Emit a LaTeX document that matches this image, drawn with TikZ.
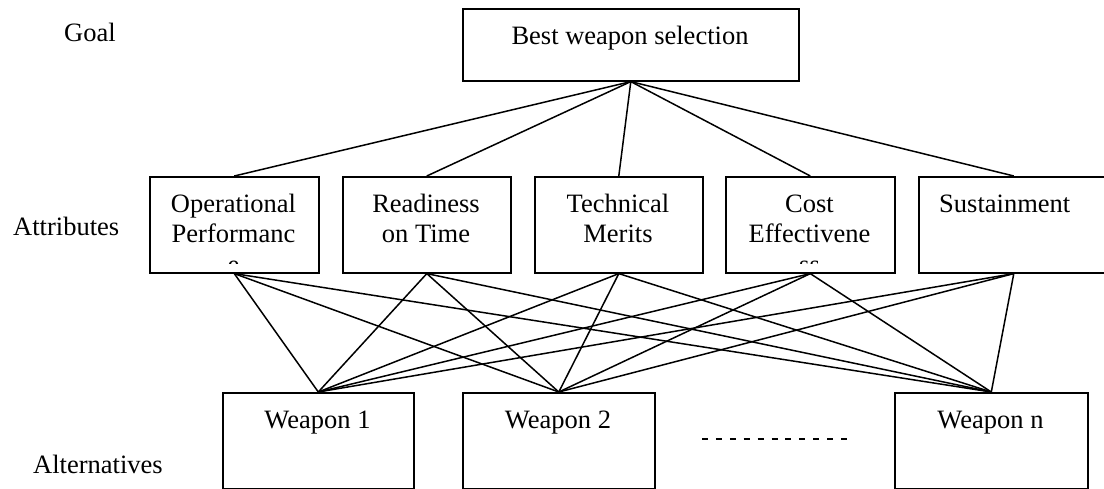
\documentclass[tikz,border=0pt]{standalone}
\usepackage{fontspec}
\setmainfont{Liberation Serif}
\begin{document}
\begin{tikzpicture}[x=1pt,y=-1pt,
  box/.style={draw=black,line width=1.6pt,inner sep=0pt,anchor=north west},
  txt/.style={anchor=base,inner sep=0pt,font=\fontsize{26.5}{30}\selectfont},
  txtl/.style={anchor=base west,inner sep=0pt,font=\fontsize{26.5}{30}\selectfont},
  link/.style={draw=black,line width=1.5pt}]
\clip (0,0) rectangle (1104,488);
\useasboundingbox (0,0) rectangle (1104,488);
\fill[white] (0,0) rectangle (1104,488);

% level labels
\node[txtl] (lgoal) at (64,41) {Goal};
\node[txtl] (lattr) at (13,235) {Attributes};
\node[txtl] (lalt) at (33,473) {Alternatives};

% goal
\node[box,minimum width=336pt,minimum height=72pt] (g) at (462,8) {};
\node[txt] (gt) at (630,44) {Best weapon selection};

% attributes
\node[box,minimum width=169pt,minimum height=96pt] (a1) at (149,176) {};
\node[box,minimum width=168pt,minimum height=96pt] (a2) at (342,176) {};
\node[box,minimum width=168pt,minimum height=96pt] (a3) at (534,176) {};
\node[box,minimum width=169pt,minimum height=96pt] (a4) at (725,176) {};
\node[box,minimum width=190pt,minimum height=96pt] (a5) at (918,176) {};

\node[txt] (a1t1) at (233.5,212) {Operational};
\node[txt] (a1t2) at (233.5,242) {Performanc};
\node[txt] (a2t1) at (426,212) {Readiness};
\node[txt] (a2t2) at (426,242) {on Time};
\node[txt] (a3t1) at (618,212) {Technical};
\node[txt] (a3t2) at (618,242) {Merits};
\node[txt] (a4t1) at (809.5,212) {Cost};
\node[txt] (a4t2) at (809.5,242) {Effectivene};
\node[txtl] (a5t1) at (939,212) {Sustainment};
\begin{scope}
\clip (150,177) rectangle (317,263.5);
\node[txt] (a1t3) at (233.5,273) {e};
\end{scope}
\begin{scope}
\clip (726,177) rectangle (893,263.5);
\node[txt] (a4t3) at (809.5,273) {ss};
\end{scope}

% alternatives
\node[box,minimum width=191pt,minimum height=96pt] (w1) at (222,392) {};
\node[box,minimum width=192pt,minimum height=96pt] (w2) at (462,392) {};
\node[box,minimum width=193pt,minimum height=96pt] (wn) at (894,392) {};
\node[txt] (w1t) at (317.5,428) {Weapon 1};
\node[txt] (w2t) at (558,428) {Weapon 2};
\node[txt] (wnt) at (990.5,428) {Weapon n};

\coordinate (d1) at (702,439);
\coordinate (d2) at (847,439);
\draw[line width=1.3pt,dash pattern=on 6pt off 7.9pt] (d1) -- (d2);

% connectors
\foreach \a in {a1,a2,a3,a4,a5}{
  \draw[link] (g.south) -- (\a.north);
  \foreach \w in {w1,w2,wn}{
    \draw[link] (\a.south) -- (\w.north);
  }
}
\end{tikzpicture}
\end{document}
